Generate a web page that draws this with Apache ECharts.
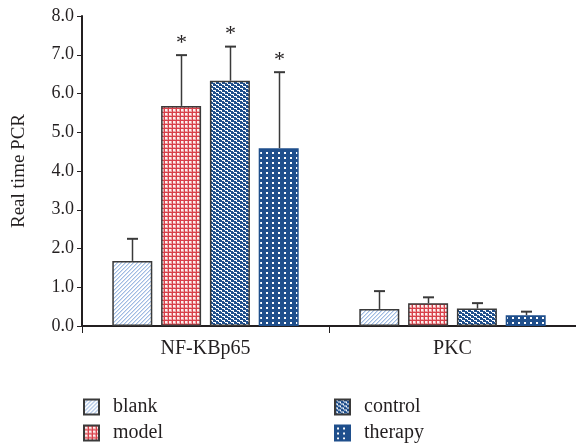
<!DOCTYPE html>
<html>
<head>
<meta charset="utf-8">
<script src="https://cdn.jsdelivr.net/npm/echarts@6/dist/echarts.min.js"></script>
<style>
html,body{margin:0;padding:0;background:#fff;}
#chart{width:576px;height:444px;}
</style>
</head>
<body>
<div id="chart"></div>
<script>
// ---- data ----
var categories = ['NF-KBp65', 'PKC'];
var seriesNames = ['blank', 'model', 'control', 'therapy'];
var blankMean = [1.68, 0.44];
var modelMean = [5.68, 0.59];
var controlMean = [6.33, 0.45];
var therapyMean = [4.59, 0.28];
var blankSD = [0.57, 0.46];
var modelSD = [1.31, 0.15];
var controlSD = [0.88, 0.14];
var therapySD = [1.96, 0.09];
var blankSig = ['', ''];
var modelSig = ['*', ''];
var controlSig = ['*', ''];
var therapySig = ['*', ''];
var yTicks = [0, 1, 2, 3, 4, 5, 6, 7, 8];

// ---- patterns ----
function makeTile(w, h, bg, fg, pixels) {
  var c = document.createElement('canvas');
  c.width = w; c.height = h;
  var ctx = c.getContext('2d');
  ctx.fillStyle = bg; ctx.fillRect(0, 0, w, h);
  pixels.forEach(function (p) {
    ctx.fillStyle = p[2] || fg;
    ctx.fillRect(p[0], p[1], 1, 1);
  });
  return c;
}
var BLUE = '#1f4f8c';
var RED = '#d8404a';
// blank: light blue diagonal stripes
var blankPx = [];
for (var y = 0; y < 4; y++) for (var x = 0; x < 4; x++) {
  if ((x + y) % 4 === 3) blankPx.push([x, y, '#9fbbe2']);
  else if ((x + y) % 4 === 0) blankPx.push([x, y, '#d3e0f2']);
}
var blankTile = makeTile(4, 4, '#ffffff', '#9fbbe2', blankPx);
// model: red grid
var modelPx = [];
for (var y2 = 0; y2 < 4; y2++) for (var x2 = 0; x2 < 4; x2++) {
  if (x2 === 0 || y2 === 0) modelPx.push([x2, y2, RED]);
  else if (x2 === 3 || y2 === 3) modelPx.push([x2, y2, '#eca4a6']);
}
var modelTile = makeTile(4, 4, '#fdf0f0', RED, modelPx);
// control: blue with white staggered dashes
var controlTile = makeTile(6, 4, BLUE, '#ffffff', [
  [0, 0], [1, 0], [2, 0], [2, 1], [3, 2], [4, 2], [5, 2], [5, 3]
]);
// therapy: blue with white dots
var therapyTile = makeTile(6, 5, BLUE, '#ffffff', [[2, 2], [3, 2], [2, 3], [3, 3]]);

function pat(tile) { return { image: tile, repeat: 'repeat' }; }

var means = [blankMean, modelMean, controlMean, therapyMean];
var sds = [blankSD, modelSD, controlSD, therapySD];
var sigs = [blankSig, modelSig, controlSig, therapySig];
var fills = [pat(blankTile), pat(modelTile), pat(controlTile), pat(therapyTile)];
var borders = ['#3a3a3a', '#3a3a3a', '#3a3a3a', BLUE];

var BAR_W = 40, GAP = 0.22;
var FONT = 'Liberation Serif';
var TXT = '#231f20';

var series = [];
seriesNames.forEach(function (name, i) {
  series.push({
    name: name,
    type: 'bar',
    barWidth: BAR_W,
    barGap: (GAP * 100) + '%',
    data: means[i],
    itemStyle: { color: fills[i], borderColor: borders[i], borderWidth: 1.5 },
    emphasis: { disabled: true },
    z: 2
  });
});
seriesNames.forEach(function (name, i) {
  var data = categories.map(function (c, k) {
    return [k, means[i][k] + sds[i][k], means[i][k], sigs[i][k]];
  });
  var offset = (i - 1.5) * BAR_W * (1 + GAP);
  series.push({
    type: 'custom',
    name: name + '_err',
    data: data,
    z: 3,
    silent: true,
    encode: { x: 0, y: 1 },
    renderItem: function (params, api) {
      var k = api.value(0);
      var top = api.coord([k, api.value(1)]);
      var base = api.coord([k, api.value(2)]);
      var x = Math.round(top[0] + offset) + 0.5;
      var sig = data[params.dataIndex][3];
      var children = [
        { type: 'line', shape: { x1: x, y1: base[1], x2: x, y2: top[1] },
          style: { stroke: '#3a3a3a', lineWidth: 1.5 } },
        { type: 'line', shape: { x1: x - 5.5, y1: top[1], x2: x + 5.5, y2: top[1] },
          style: { stroke: '#3a3a3a', lineWidth: 2 } }
      ];
      if (sig) {
        children.push({ type: 'text', style: { text: sig, x: x, y: top[1] - 1,
          align: 'center', verticalAlign: 'bottom', fontSize: 22, fontFamily: FONT, fill: TXT } });
      }
      return { type: 'group', children: children };
    }
  });
});

var legendCommon = {
  orient: 'vertical', top: 397, padding: 0, itemWidth: 15, itemHeight: 15,
  itemGap: 6, icon: 'rect', selectedMode: false,
  textStyle: { fontFamily: FONT, fontSize: 20, lineHeight: 20, color: TXT, padding: [0, 0, 0, 9] }
};

var chart = echarts.init(document.getElementById('chart'), null, { renderer: 'canvas' });
chart.setOption({
  animation: false,
  backgroundColor: '#ffffff',
  grid: { left: 82, top: 16, width: 496, height: 310, containLabel: false },
  legend: [
    Object.assign({}, legendCommon, { data: ['blank', 'model'], left: 83 }),
    Object.assign({}, legendCommon, { data: ['control', 'therapy'], left: 334 })
  ],
  xAxis: {
    type: 'category',
    data: categories,
    axisLine: { lineStyle: { color: '#231f20', width: 2 } },
    axisTick: { show: true, length: 7, lineStyle: { color: '#231f20', width: 1 } },
    axisLabel: { fontFamily: FONT, fontSize: 20, color: TXT, margin: 13 }
  },
  yAxis: {
    type: 'value',
    min: 0, max: 8, interval: 1,
    name: 'Real time PCR',
    nameLocation: 'middle',
    nameRotate: 90,
    nameGap: 53,
    nameTextStyle: { fontFamily: FONT, fontSize: 19, color: TXT },
    splitLine: { show: false },
    axisLine: { show: true, lineStyle: { color: '#231f20', width: 2 } },
    axisTick: { show: true, length: 5, lineStyle: { color: '#231f20', width: 1 } },
    axisLabel: { fontFamily: FONT, fontSize: 18, color: TXT, margin: 8,
      formatter: function (v) { return yTicks.indexOf(v) >= 0 ? v.toFixed(1) : ''; } }
  },
  series: series
});
</script>
</body>
</html>
